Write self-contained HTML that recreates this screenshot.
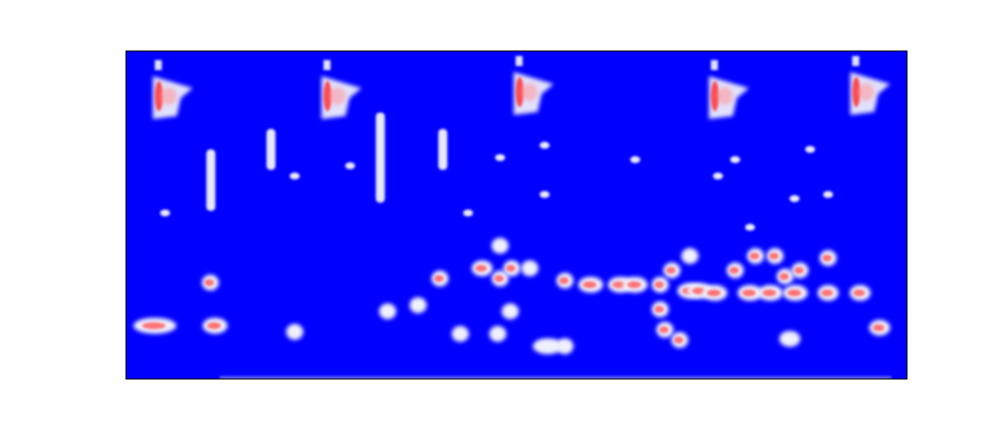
<!DOCTYPE html>
<html><head><meta charset="utf-8"><style>
html,body{margin:0;padding:0;background:#fff;}
svg{display:block;}
</style></head><body>
<svg id="chart" width="1008" height="432" viewBox="0 0 1008 432">
<defs>
<filter id="blur" x="-50%" y="-50%" width="200%" height="200%"><feGaussianBlur stdDeviation="2"/></filter>
<filter id="blur2" x="-50%" y="-50%" width="200%" height="200%"><feGaussianBlur stdDeviation="1.2"/></filter>
<clipPath id="clip"><rect x="126" y="51" width="781" height="328"/></clipPath>
</defs>
<rect x="126" y="51" width="781" height="328" fill="#0000ff"/>
<g id="marks" clip-path="url(#clip)"></g>
<rect x="126" y="51" width="781" height="328" fill="none" stroke="#000" stroke-width="1"/>
</svg>
<script>
// time in seconds (0..10), frequency in kHz (0..8)
const callTimes = [0.42, 2.58, 5.04, 7.54, 9.35];
const callFreqs = [6.9, 6.9, 7.0, 6.9, 7.0];
const colTimes = [1.08, 1.85, 3.25, 4.05];
const colFreqTop = [5.6, 6.1, 6.5, 6.1];
const colFreqBot = [4.1, 5.1, 4.3, 5.1];
const dotTimes = [0.5, 2.16, 2.87, 4.38, 4.79, 5.36, 5.36, 6.52, 7.8, 7.58, 7.99, 8.56, 8.76, 8.99];
const dotFreqs = [4.05, 4.95, 5.2, 4.05, 5.4, 5.7, 4.5, 5.35, 5.35, 4.95, 3.7, 4.4, 5.6, 4.5];
const blobTimes = [0.37,1.08,1.14,2.16,3.35,3.74,4.02,4.28,4.56,4.79,4.79,4.94,5.17,4.76,4.92,5.4,5.62,5.62,5.95,6.33,6.52,6.84,6.84,6.9,6.99,7.09,7.22,7.22,7.35,7.54,7.8,7.99,8.06,8.25,8.31,8.44,8.57,8.5,8.63,8.99,8.99,9.4,9.65];
const blobFreqs = [1.3,2.35,1.3,1.15,1.65,1.8,2.45,1.1,2.7,2.45,3.25,2.7,2.7,1.1,1.65,0.8,0.8,2.4,2.3,2.3,2.3,2.3,1.7,1.2,2.65,0.95,2.15,3.0,2.15,2.1,2.65,2.1,3.0,2.1,3.0,2.5,2.1,0.98,2.65,2.95,2.1,2.1,1.25];
const blobWidths = [0.55,0.22,0.32,0.22,0.22,0.22,0.22,0.22,0.27,0.22,0.22,0.22,0.22,0.22,0.22,0.38,0.22,0.22,0.32,0.32,0.32,0.22,0.22,0.22,0.22,0.22,0.32,0.22,0.32,0.32,0.22,0.32,0.22,0.32,0.22,0.22,0.32,0.27,0.22,0.22,0.27,0.27,0.27];
const blobRed = [1,1,1,0,0,0,1,0,1,1,0,1,0,0,0,0,0,1,1,1,1,1,1,1,1,1,1,0,1,1,1,1,1,1,1,1,1,0,1,1,1,1,1];

const X0=126,W=781,Y0=51,H=328;
const x = t => X0 + t/10*W;
const y = f => Y0 + H - f/8*H;
const NS='http://www.w3.org/2000/svg';
const g=document.getElementById('marks');
function mk(tag,attrs){const e=document.createElementNS(NS,tag);for(const k in attrs)e.setAttribute(k,attrs[k]);g.appendChild(e);return e;}

const strip=mk('rect',{x:x(1.2),y:y(0.07),width:x(9.8)-x(1.2),height:5,fill:'#c8c8ff',opacity:0.5,filter:'url(#blur2)'});



callTimes.forEach((t,i)=>{
  const cx=x(t), cy=y(callFreqs[i]);
  const p=mk('polygon',{points:`${cx-6},${cy-20} ${cx+34},${cy-8} ${cx+22},${cy+2} ${cx+18},${cy+20} ${cx-6},${cy+23}`,fill:'#eeeeff',opacity:0.95,filter:'url(#blur)'});
  
  
  const r=mk('ellipse',{cx:cx,cy:cy,rx:4,ry:15,fill:'#ff3030',opacity:0.85,filter:'url(#blur2)'});
  
  
  const r2=mk('ellipse',{cx:cx+10,cy:cy,rx:8,ry:9,fill:'#ff9a9a',opacity:0.6,filter:'url(#blur)'});
  
  
  const s=mk('rect',{x:cx-4,y:cy-36,width:7,height:10,fill:'#e0e0ff',filter:'url(#blur2)'});
  
  
});
colTimes.forEach((t,i)=>{
  const c=mk('rect',{x:x(t)-4,y:y(colFreqTop[i]),width:9,height:y(colFreqBot[i])-y(colFreqTop[i]),rx:4,fill:'#e6e6ff',filter:'url(#blur2)'});
  
  
});
dotTimes.forEach((t,i)=>{
  const d=mk('ellipse',{cx:x(t),cy:y(dotFreqs[i]),rx:5,ry:3.5,fill:'#e8e8ff',filter:'url(#blur2)'});
  
  
});
blobTimes.forEach((t,i)=>{
  const cx=x(t), cy=y(blobFreqs[i]), rw=blobWidths[i]*W/10/2;
  const b=mk('ellipse',{cx:cx,cy:cy,rx:rw,ry:8,fill:'#f0f0ff',filter:'url(#blur)'});
  
  
  if(blobRed[i]){
    const r=mk('ellipse',{cx:cx-1,cy:cy,rx:Math.max(3,rw*0.55),ry:3.5,fill:'#ff5555',opacity:0.8,filter:'url(#blur2)'});
    
    
  }
});
</script>
</body></html>
